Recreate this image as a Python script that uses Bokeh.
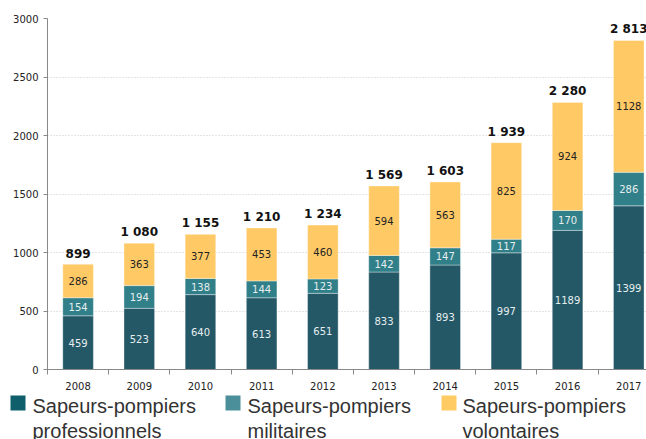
from bokeh.plotting import figure
from bokeh.layouts import column
from bokeh.models import Range1d, FixedTicker, ColumnDataSource
from bokeh.embed import file_html
from bokeh.resources import INLINE
from bokeh.core.properties import value

# ---- data ----
years = ["2008", "2009", "2010", "2011", "2012", "2013", "2014", "2015", "2016", "2017"]
professionnels = [459, 523, 640, 613, 651, 833, 893, 997, 1189, 1399]
militaires = [154, 194, 138, 144, 123, 142, 147, 117, 170, 286]
volontaires = [286, 363, 377, 453, 460, 594, 563, 825, 924, 1128]
totaux = [899, 1080, 1155, 1210, 1234, 1569, 1603, 1939, 2280, 2813]
series_names = ["Sapeurs-pompiers\nprofessionnels", "Sapeurs-pompiers\nmilitaires", "Sapeurs-pompiers\nvolontaires"]
y_ticks = [0, 500, 1000, 1500, 2000, 2500, 3000]

bar_colors = ["#245866", "#317f89", "#ffca66"]
legend_colors = ["#0f5e6c", "#4a8f9a", "#ffcb62"]

xs = list(range(len(years)))
src = ColumnDataSource(dict(x=xs, pro=professionnels, mil=militaires, vol=volontaires))

p = figure(width=646, height=392, output_backend="svg", toolbar_location=None,
           x_range=Range1d(-0.5, 9.29), y_range=Range1d(0, 3000),
           min_border_left=47, min_border_right=0, min_border_top=18, min_border_bottom=23)
p.outline_line_color = None
p.background_fill_color = "white"
p.frame_align = False

p.vbar_stack(["pro", "mil", "vol"], x="x", width=0.5, color=bar_colors, source=src,
             line_color="white", line_alpha=0.35, line_width=1)

# segment labels
lx, ly, lt, lc = [], [], [], []
for i in xs:
    base = 0
    for vals, col in ((professionnels, "#e6eef0"), (militaires, "#e6eef0"), (volontaires, "#222222")):
        v = vals[i]
        lx.append(i)
        ly.append(base + v / 2)
        lt.append(str(v))
        lc.append(col)
        base += v
p.text(x=lx, y=ly, text=lt, text_color=lc, text_align="center", text_baseline="middle",
       text_font=value("DejaVu Sans"), text_font_size="10px")

# totals
tops = [a + b + c for a, b, c in zip(professionnels, militaires, volontaires)]
tot_txt = ["{:,}".format(t).replace(",", " ") for t in totaux]
p.text(x=xs, y=tops, text=tot_txt, text_color="#111111", text_align="center",
       text_baseline="alphabetic", y_offset=-11,
       text_font=value("DejaVu Sans"), text_font_size="12px", text_font_style="bold")

# axes
p.xaxis.ticker = FixedTicker(ticks=xs, minor_ticks=[i - 0.5 for i in range(len(years) + 1)])
p.xaxis.major_label_overrides = {i: y for i, y in enumerate(years)}
p.xaxis.major_tick_line_color = None
p.xaxis.minor_tick_line_color = "#888888"
p.xaxis.minor_tick_in = 0
p.xaxis.minor_tick_out = 5
p.xaxis.axis_line_color = "#888888"
p.xaxis.major_label_text_font = "DejaVu Sans"
p.xaxis.major_label_text_font_size = "10px"
p.xaxis.major_label_text_color = "#222222"
p.xaxis.major_label_standoff = 6

p.yaxis.ticker = FixedTicker(ticks=y_ticks, minor_ticks=[])
p.yaxis.major_tick_line_color = "#888888"
p.yaxis.major_tick_in = 0
p.yaxis.major_tick_out = 4
p.yaxis.axis_line_color = "#888888"
p.yaxis.major_label_text_font = "DejaVu Sans"
p.yaxis.major_label_text_font_size = "10px"
p.yaxis.major_label_text_color = "#222222"
p.yaxis.major_label_standoff = 5

p.xgrid.grid_line_color = None
p.ygrid.ticker = FixedTicker(ticks=y_ticks[1:])
p.ygrid.grid_line_color = "#c8c8c8"
p.ygrid.grid_line_dash = "1 2"

# legend (separate strip)
lg = figure(width=646, height=47, output_backend="svg", toolbar_location=None,
            x_range=Range1d(0, 646), y_range=Range1d(47, 0),
            min_border=0)
lg.frame_align = False
lg.axis.visible = False
lg.grid.visible = False
lg.outline_line_color = None
sq_left = [10, 225, 441]
txt_left = [32, 247, 462]
lg.quad(left=sq_left, right=[v + 15 for v in sq_left], top=[3] * 3, bottom=[18] * 3,
        color=legend_colors, line_color=None)
for k, name in enumerate(series_names):
    l1, l2 = name.split("\n")
    lg.text(x=[txt_left[k], txt_left[k]], y=[13, 38], text=[l1, l2], text_color="#333333",
            text_align="left", text_baseline="alphabetic",
            text_font=value("Liberation Sans"), text_font_size="20px")

layout = column(p, lg, spacing=0)
open("out.html", "w").write(file_html(layout, INLINE))
